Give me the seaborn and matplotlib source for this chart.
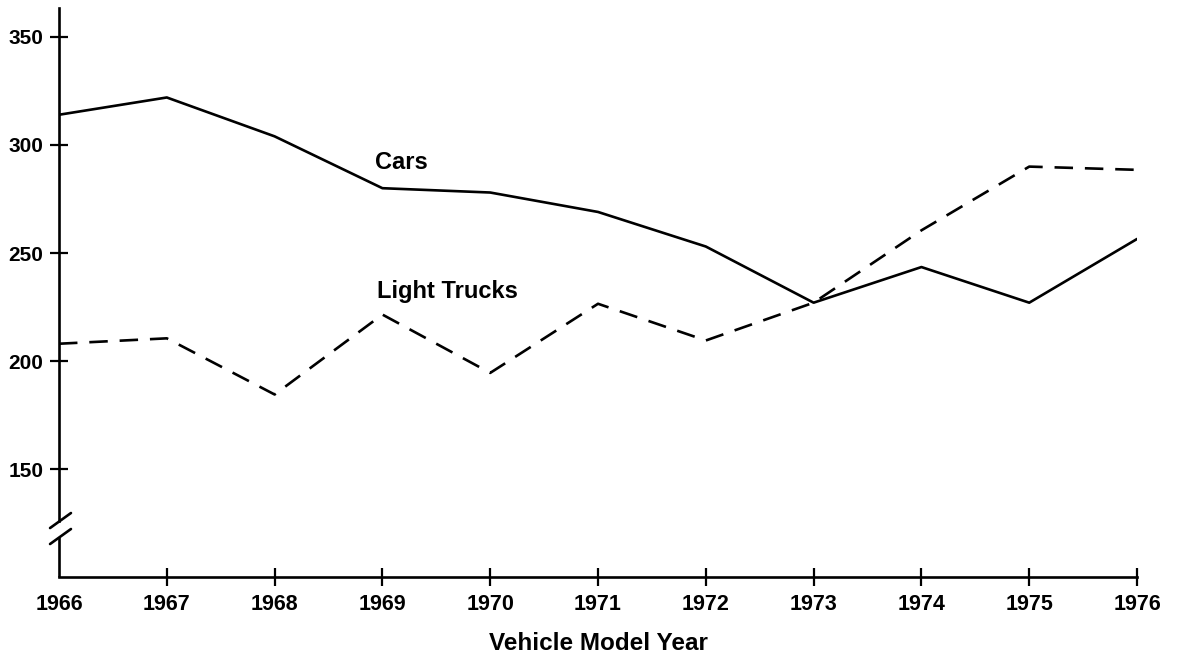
import pandas as pd
import seaborn as sns
import matplotlib.pyplot as plt

# values
years = [1966, 1967, 1968, 1969, 1970, 1971, 1972, 1973, 1974, 1975, 1976]
cars = [314, 322, 304, 280, 278, 269, 253, 227, 243.5, 227, 256.5]
light_trucks = [208, 210.5, 184.5, 221.5, 194.5, 226.5, 209.5, 227, 260.5, 290, 288.5]
y_ticks = [150, 200, 250, 300, 350]

data = pd.concat([
    pd.DataFrame({'year': years, 'value': cars, 'vehicle': 'Cars'}),
    pd.DataFrame({'year': years, 'value': light_trucks, 'vehicle': 'Light Trucks'}),
])

sns.set_style("white")
plt.rcParams['font.family'] = ['Liberation Sans', 'DejaVu Sans']
plt.rcParams['font.weight'] = 'bold'
plt.rcParams['text.color'] = 'black'
plt.rcParams['xtick.color'] = 'black'
plt.rcParams['ytick.color'] = 'black'
plt.rcParams['axes.labelcolor'] = 'black'

fig = plt.figure(figsize=(11.8, 6.54), dpi=100)
ax = fig.add_axes([0.05, 0.1177, 0.9136, 0.87])

sns.lineplot(data=data, x='year', y='value', hue='vehicle', style='vehicle',
             palette={'Cars': 'black', 'Light Trucks': 'black'},
             dashes={'Cars': '', 'Light Trucks': (7, 4.5)},
             linewidth=1.9, legend=False, ax=ax)

ax.set_xlim(1966, 1976)
ax.set_ylim(100, 363.4)
ax.set_xticks(years)
ax.set_yticks(y_ticks)
ax.set_xticklabels([str(y) for y in years], fontsize=15.5, fontweight='bold')
ax.set_yticklabels([str(v) for v in y_ticks], fontsize=15, fontweight='bold')
ax.tick_params(axis='both', direction='inout', length=12.5, width=1.6,
               color='black', labelcolor='black', bottom=True, left=True)
ax.tick_params(axis='y', pad=5)
ax.tick_params(axis='x', pad=6)
ax.xaxis.get_major_ticks()[0].tick1line.set_visible(False)

ax.set_xlabel('Vehicle Model Year', fontsize=17.5, fontweight='bold', labelpad=12,
              color='black')
ax.set_ylabel('')

for side in ['top', 'right']:
    ax.spines[side].set_visible(False)
for side in ['left', 'bottom']:
    ax.spines[side].set_color('black')
    ax.spines[side].set_linewidth(1.9)

# broken y axis
ax.spines['left'].set_bounds(126, 363.4)
ax.plot([0, 0], [0, 0.07], transform=ax.transAxes, color='black', lw=1.9,
        clip_on=False, solid_capstyle='butt')
for y0 in [0.058, 0.0861]:
    ax.plot([-0.0083, 0.0111], [y0, y0 + 0.0264], transform=ax.transAxes,
            color='black', lw=1.9, clip_on=False)

ax.text(1968.93, 292, 'Cars', fontsize=17, fontweight='bold', va='center', ha='left')
ax.text(1968.95, 232, 'Light Trucks', fontsize=17, fontweight='bold', va='center', ha='left')

fig.savefig('out.png', dpi=100, facecolor='white')
